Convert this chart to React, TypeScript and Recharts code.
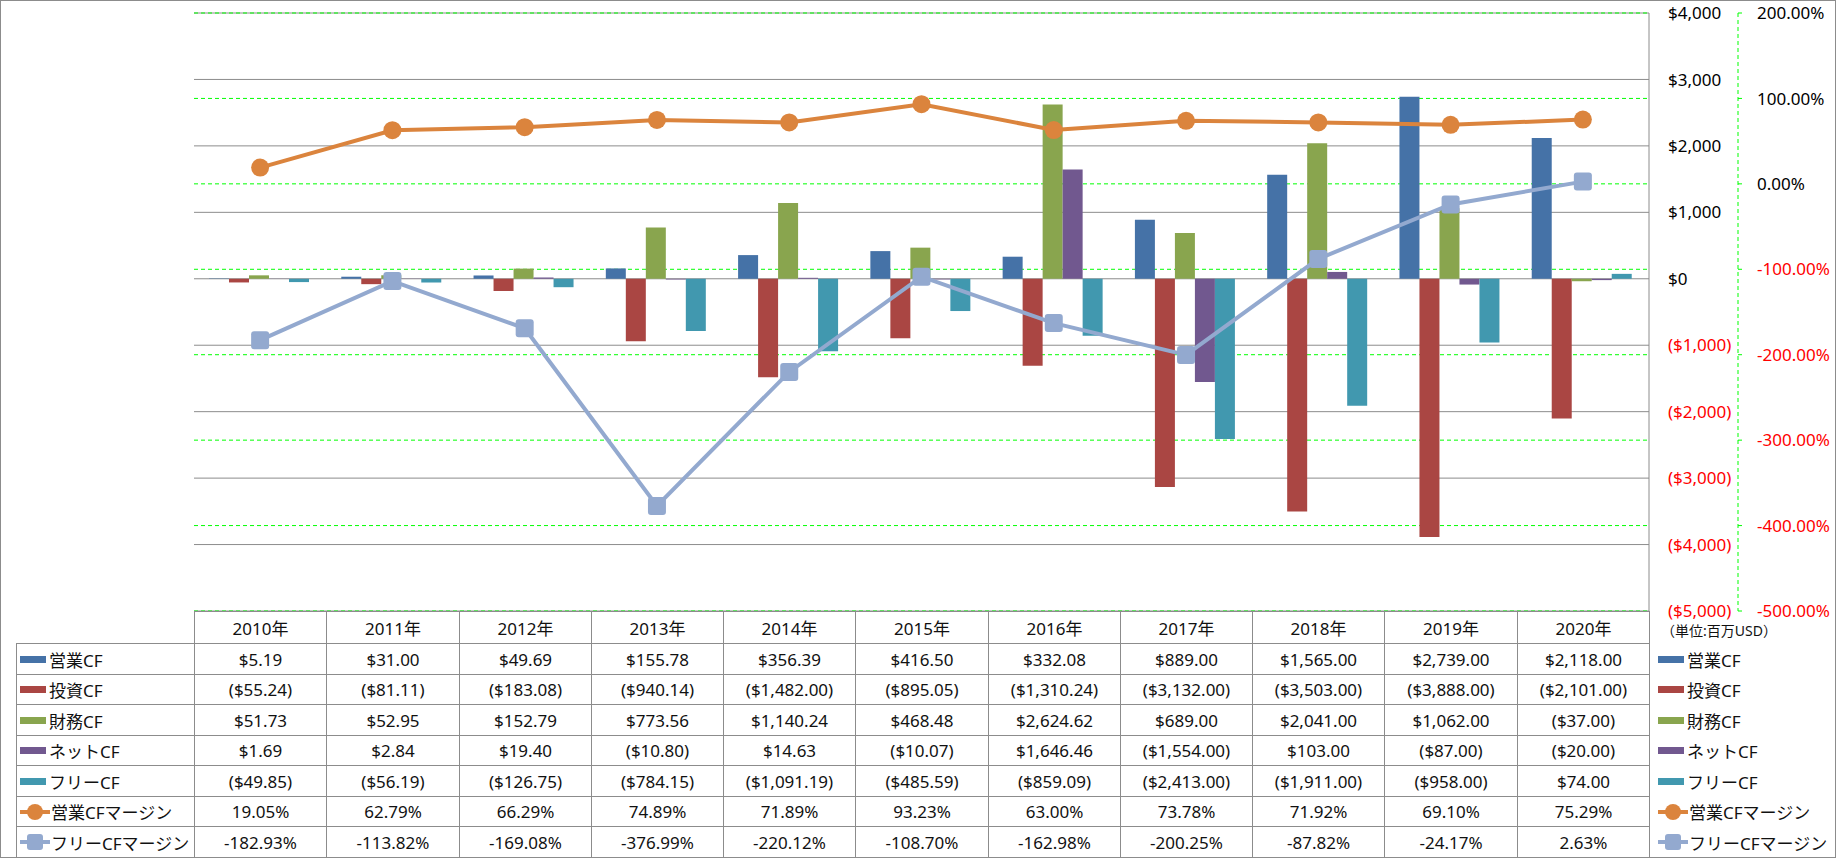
import React from 'react';
import { ComposedChart, Bar, Line, XAxis, YAxis, CartesianGrid } from 'recharts';

const years = ['2010年', '2011年', '2012年', '2013年', '2014年', '2015年', '2016年', '2017年', '2018年', '2019年', '2020年'];
const opCF = [5.19, 31.0, 49.69, 155.78, 356.39, 416.5, 332.08, 889.0, 1565.0, 2739.0, 2118.0];
const invCF = [-55.24, -81.11, -183.08, -940.14, -1482.0, -895.05, -1310.24, -3132.0, -3503.0, -3888.0, -2101.0];
const finCF = [51.73, 52.95, 152.79, 773.56, 1140.24, 468.48, 2624.62, 689.0, 2041.0, 1062.0, -37.0];
const netCF = [1.69, 2.84, 19.4, -10.8, 14.63, -10.07, 1646.46, -1554.0, 103.0, -87.0, -20.0];
const freeCF = [-49.85, -56.19, -126.75, -784.15, -1091.19, -485.59, -859.09, -2413.0, -1911.0, -958.0, 74.0];
const opMargin = [19.05, 62.79, 66.29, 74.89, 71.89, 93.23, 63.0, 73.78, 71.92, 69.1, 75.29];
const freeMargin = [-182.93, -113.82, -169.08, -376.99, -220.12, -108.7, -162.98, -200.25, -87.82, -24.17, 2.63];

const usdTicks = [-5000, -4000, -3000, -2000, -1000, 0, 1000, 2000, 3000, 4000];
const pctTicks = [-500, -400, -300, -200, -100, 0, 100, 200];

type Series = { key: string; name: string; color: string; values: number[]; kind: 'bar' | 'circle' | 'square' };

const series: Series[] = [
  { key: 'op', name: '営業CF', color: '#4572A7', values: opCF, kind: 'bar' },
  { key: 'inv', name: '投資CF', color: '#AA4643', values: invCF, kind: 'bar' },
  { key: 'fin', name: '財務CF', color: '#89A54E', values: finCF, kind: 'bar' },
  { key: 'net', name: 'ネットCF', color: '#71588F', values: netCF, kind: 'bar' },
  { key: 'free', name: 'フリーCF', color: '#4198AF', values: freeCF, kind: 'bar' },
  { key: 'opM', name: '営業CFマージン', color: '#DB843D', values: opMargin, kind: 'circle' },
  { key: 'freeM', name: 'フリーCFマージン', color: '#93A9CF', values: freeMargin, kind: 'square' },
];

const data = years.map((year, i) => {
  const row: Record<string, string | number> = { year };
  series.forEach((s) => (row[s.key] = s.values[i]));
  return row;
});

const FONT = '"Noto Sans", "Noto Sans CJK JP", sans-serif';
const GRID = '#8C8C8C';
const GREEN = '#00FF00';

const withCommas = (v: number, d: number) =>
  v.toLocaleString('en-US', { minimumFractionDigits: d, maximumFractionDigits: d });
const usdCell = (v: number) => (v < 0 ? `($${withCommas(-v, 2)})` : `$${withCommas(v, 2)}`);
const usdTickText = (v: number) => (v < 0 ? `($${withCommas(-v, 0)})` : `$${withCommas(v, 0)}`);

const UsdTick = (props: any) => {
  const { x, y, payload } = props;
  const v = payload.value as number;
  return (
    <text x={x + 19} y={y} dy="0.36em" textAnchor="start" fontSize={17} fill={v < 0 ? '#FF0000' : '#000'}>
      {usdTickText(v)}
    </text>
  );
};

const PctTick = (props: any) => {
  const { x, y, payload } = props;
  const v = payload.value as number;
  return (
    <text x={x + 15} y={y} dy="0.36em" textAnchor="start" fontSize={17} fill={v < 0 ? '#FF0000' : '#000'}>
      {`${v.toFixed(2)}%`}
    </text>
  );
};

const SquareDot = (props: any) => {
  const { cx, cy, index } = props;
  return <rect key={`sq-${index}`} x={cx - 9} y={cy - 9} width={18} height={18} rx={3} fill="#93A9CF" />;
};

function LegendKey({ s }: { s: Series }) {
  if (s.kind === 'bar') {
    return <span style={{ display: 'inline-block', width: 26, height: 7, background: s.color, marginRight: 3 }} />;
  }
  return (
    <svg width={30} height={18} style={{ marginRight: 1 }}>
      <line x1={0} y1={9} x2={30} y2={9} stroke={s.color} strokeWidth={4} />
      {s.kind === 'circle' ? (
        <circle cx={15} cy={9} r={8} fill={s.color} />
      ) : (
        <rect x={7} y={1} width={16} height={16} rx={3} fill={s.color} />
      )}
    </svg>
  );
}

const plotLeft = 194;
const plotRight = 1649;
const catW = (plotRight - plotLeft) / years.length;
const headerTop = 611;
const rowTop = 643;
const rowH = 30.5;

function Table() {
  const cells: React.ReactNode[] = [];
  const border = `1px solid ${GRID}`;
  const cellStyle = (l: number, t: number, w: number, h: number, bordered: boolean): React.CSSProperties => ({
    position: 'absolute',
    left: Math.round(l),
    top: Math.round(t),
    width: Math.round(l + w) - Math.round(l) + 1,
    height: Math.round(t + h) - Math.round(t) + 1,
    border: bordered ? border : 'none',
    boxSizing: 'border-box',
    display: 'flex',
    alignItems: 'center',
    fontSize: 17,
    color: '#111',
    whiteSpace: 'nowrap',
  });

  years.forEach((y, c) => {
    cells.push(
      <div key={`h${c}`} style={{ ...cellStyle(plotLeft + c * catW, headerTop, catW, rowTop - headerTop, true), justifyContent: 'center' }}>
        {y}
      </div>
    );
  });
  cells.push(
    <div key="unit" style={{ position: 'absolute', left: 1661, top: 620, fontSize: 14, color: '#111', whiteSpace: 'nowrap' }}>
      （単位:百万USD）
    </div>
  );

  series.forEach((s, r) => {
    const t = rowTop + r * rowH;
    cells.push(
      <div key={`l${r}`} style={{ ...cellStyle(16, t, plotLeft - 16, rowH, true), paddingLeft: 3 }}>
        <LegendKey s={s} />
        {s.name}
      </div>
    );
    s.values.forEach((v, c) => {
      const txt = s.kind === 'bar' ? usdCell(v) : `${v.toFixed(2)}%`;
      cells.push(
        <div key={`c${r}-${c}`} style={{ ...cellStyle(plotLeft + c * catW, t, catW, rowH, true), justifyContent: 'center' }}>
          {txt}
        </div>
      );
    });
    cells.push(
      <div key={`r${r}`} style={{ ...cellStyle(plotRight, t, 1835 - plotRight, rowH, false), paddingLeft: 9 }}>
        <LegendKey s={s} />
        {s.name}
      </div>
    );
  });
  return <>{cells}</>;
}

export default function App() {
  return (
    <div
      style={{
        position: 'relative',
        width: 1836,
        height: 858,
        border: `1px solid ${GRID}`,
        boxSizing: 'border-box',
        fontFamily: FONT,
        background: '#fff',
        overflow: 'hidden',
      }}
    >
      <style>{'body{margin:0}'}</style>
      <div style={{ position: 'absolute', left: -1, top: -1 }}>
        <ComposedChart
          width={1836}
          height={858}
          data={data}
          margin={{ top: 13, right: 0, bottom: 247, left: plotLeft }}
          barCategoryGap={15}
          barGap={0}
        >
          <XAxis dataKey="year" hide />
          <YAxis
            yAxisId="b_pct"
            orientation="right"
            domain={[-500, 200]}
            ticks={pctTicks}
            width={98}
            axisLine={{ stroke: GREEN, strokeDasharray: '4 3' }}
            tickLine={{ stroke: GREEN }}
            tickSize={4}
            tickMargin={0}
            tick={<PctTick />}
            interval={0}
          />
          <YAxis
            yAxisId="a_usd"
            orientation="right"
            domain={[-5000, 4000]}
            ticks={usdTicks}
            width={89}
            axisLine={{ stroke: GRID }}
            tickLine={false}
            tickSize={0}
            tickMargin={0}
            tick={<UsdTick />}
            interval={0}
          />
          <CartesianGrid yAxisId="a_usd" vertical={false} stroke={GRID} />
          <CartesianGrid yAxisId="b_pct" vertical={false} stroke={GREEN} strokeDasharray="4 3" />
          {series
            .filter((s) => s.kind === 'bar')
            .map((s) => (
              <Bar key={s.key} yAxisId="a_usd" dataKey={s.key} name={s.name} fill={s.color} isAnimationActive={false} />
            ))}
          <Line
            yAxisId="b_pct"
            dataKey="opM"
            name="営業CFマージン"
            stroke="#DB843D"
            strokeWidth={4}
            dot={{ r: 9, fill: '#DB843D', stroke: 'none' }}
            activeDot={false}
            isAnimationActive={false}
          />
          <Line
            yAxisId="b_pct"
            dataKey="freeM"
            name="フリーCFマージン"
            stroke="#93A9CF"
            strokeWidth={4}
            dot={<SquareDot />}
            activeDot={false}
            isAnimationActive={false}
          />
        </ComposedChart>
      </div>
      <div style={{ position: 'absolute', left: -1, top: -1 }}>
        <Table />
      </div>
    </div>
  );
}
